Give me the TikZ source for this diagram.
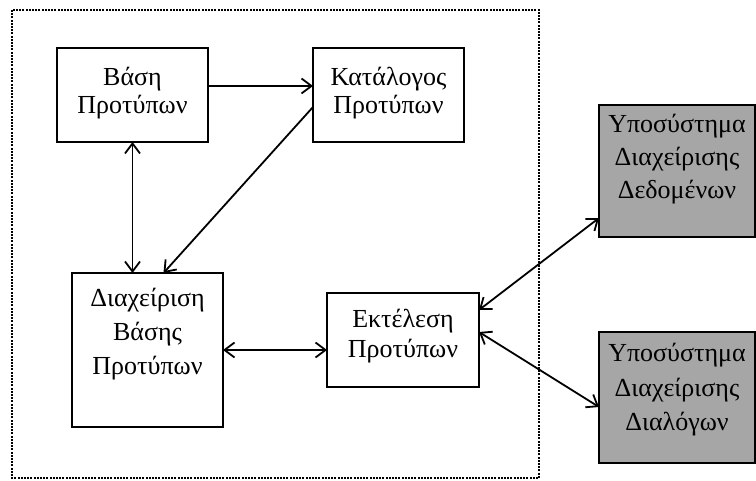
\documentclass[tikz,border=0pt]{standalone}
\usepackage{fontspec}
\setmainfont{Liberation Serif}
\usetikzlibrary{arrows.meta}

\definecolor{subsysgray}{RGB}{166,166,166}

% Text block of a module: #1 box height, #2 box width,
% #3 first baseline below the top edge, #4 line spacing, #5 lines
\newcommand{\boxlines}[5]{%
  \parbox[c][#1][t]{#2}{\centering\fontsize{26}{#4}\selectfont
    \rule{0pt}{#3}#5\par}}

\tikzset{
  module/.style={draw=black, line width=2.3pt, fill=white,
                 inner sep=0pt, outer sep=0pt},
  subsystem/.style={module, fill=subsysgray},
  barb/.tip={Straight Barb[length=10pt,width=15pt]},
  link/.style={line width=1.8pt, -barb},
  duplex/.style={line width=1.8pt, barb-barb},
  boundary/.style={line width=2.2pt, dash pattern=on 2pt off 1.2pt}
}

\begin{document}
\begin{tikzpicture}[x=1pt,y=-1pt]
  \useasboundingbox (0,0) rectangle (756,481);

  % system boundary
  \draw[boundary] (12,10) rectangle (539,478);

  % modules inside the boundary
  \node[module] (base) at (132.5,95)
    {\boxlines{94pt}{151pt}{38pt}{28pt}{Βάση\\Προτύπων}};
  \node[module] (catalog) at (388.5,95)
    {\boxlines{94pt}{151pt}{38pt}{28pt}{Κατάλογος\\Προτύπων}};
  \node[module] (manage) at (147.5,350)
    {\boxlines{154pt}{151pt}{33.5pt}{34pt}{Διαχείριση\\Βάσης\\Προτύπων}};
  \node[module] (exec) at (403,340)
    {\boxlines{94pt}{152pt}{35pt}{30pt}{Εκτέλεση\\Προτύπων}};

  % external subsystems
  \node[subsystem] (data) at (677,171)
    {\boxlines{132pt}{156pt}{28pt}{33pt}{Υποσύστημα\\Διαχείρισης\\Δεδομένων}};
  \node[subsystem] (dialog) at (677,397.5)
    {\boxlines{131pt}{156pt}{29pt}{35pt}{Υποσύστημα\\Διαχείρισης\\Διαλόγων}};

  % connections
  \draw[link] ([yshift=9pt]base.east) -- ([yshift=9pt]base.east -| catalog.west);
  \draw[duplex] (base.south) -- (base.south |- manage.north);
  \draw[link] ([yshift=-12pt]catalog.west) -- ([xshift=16pt]manage.north);
  \draw[duplex] (manage.east) -- (manage.east -| exec.west);
  \draw[duplex] ([yshift=30pt]exec.east) -- ([yshift=-47pt]data.west);
  \draw[duplex] ([yshift=8pt]exec.east) -- ([yshift=-9.5pt]dialog.west);
\end{tikzpicture}
\end{document}
